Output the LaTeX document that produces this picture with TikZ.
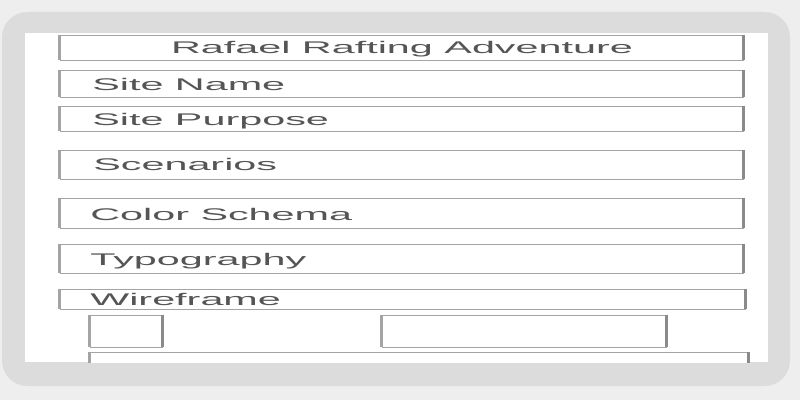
\documentclass[tikz,border=0pt]{standalone}
\usepackage{fontspec}
\usepackage{graphicx}
\setmainfont{Liberation Sans}
\usetikzlibrary{fit}
\definecolor{pagebg}{HTML}{EEEEEE}
\definecolor{framegray}{HTML}{DCDCDC}
\definecolor{linegray}{HTML}{A4A4A4}
\definecolor{sidegray}{HTML}{8A8A8A}
\definecolor{txtgray}{HTML}{555555}
\newcommand{\widetxt}[1]{\scalebox{2.45}[1]{#1}}

\begin{document}
\begin{tikzpicture}[x=0.025cm, y=-0.025cm]
      % Styles
      \tikzset{
        field/.style={draw=linegray, line width=0.6pt, inner sep=0pt, fill=white},
        side/.style={draw=sidegray, line width=2pt},
        lbl/.style={text=txtgray, inner sep=0pt, font=\fontsize{12}{14}\selectfont},
      }
      % Page and frame
      \useasboundingbox (0,0) rectangle (800,400);
      \fill[pagebg] (0,0) rectangle (800,400);
      \fill[framegray, rounded corners=18pt] (2,12) rectangle (790,386);
      \fill[white] (25,33) rectangle (768,362);
      \begin{scope}
        \clip (25,33) rectangle (768,362);
        % Fields
        \node (title) [field, fit={(60,35) (743,60)}] {};
        \node (name) [field, fit={(60,70) (743,97)}] {};
        \node (purpose) [field, fit={(60,106) (743,131)}] {};
        \node (scenarios) [field, fit={(60,150) (743,179)}] {};
        \node (colors) [field, fit={(60,198) (743,228)}] {};
        \node (typo) [field, fit={(60,244) (743,273)}] {};
        \node (wire) [field, fit={(60,289) (745,309)}] {};
        \node (thumb) [field, fit={(90,315) (162,347)}] {};
        \node (panel) [field, fit={(382,315) (666,347)}] {};
        \node (footer) [field, fit={(90,352) (748,378)}] {};
        % Thick sides
        \foreach \f in {title,name,purpose,scenarios,colors,typo,wire,thumb,panel,footer}{
          \draw[side, draw=linegray] (\f.north west) -- (\f.south west);
          \draw[side] (\f.north east) -- (\f.south east);
        }
      \end{scope}
      % Labels
      \node (titletext) [lbl, anchor=base] at (402,54) {\widetxt{Rafael Rafting Adventure}};
      \node (nametext) [lbl, anchor=base west] at (92,91) {\widetxt{Site Name}};
      \node (purposetext) [lbl, anchor=base west] at (92,126) {\widetxt{Site Purpose}};
      \node (scenariostext) [lbl, anchor=base west] at (93,171) {\widetxt{Scenarios}};
      \node (colorstext) [lbl, anchor=base west] at (90,220) {\widetxt{Color Schema}};
      \node (typotext) [lbl, anchor=base west] at (90,265) {\widetxt{Typography}};
      \node (wiretext) [lbl, anchor=base west] at (90,305) {\widetxt{Wireframe}};
    \end{tikzpicture}
\end{document}
